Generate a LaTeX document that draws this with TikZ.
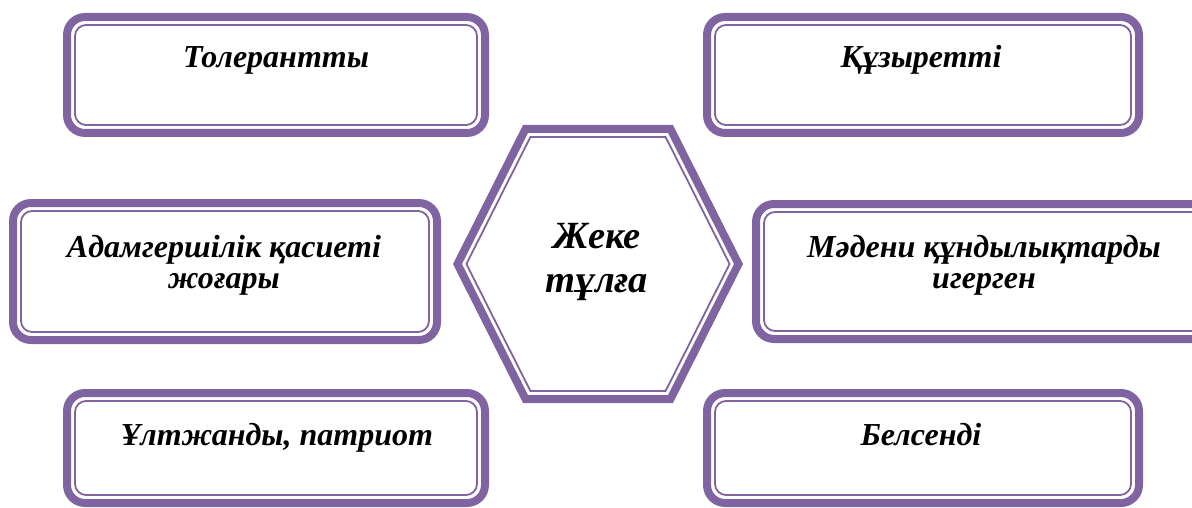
\documentclass[tikz,border=0pt]{standalone}
\usepackage{fontspec}
\setmainfont{Liberation Serif}
\definecolor{vio}{HTML}{8064A2}
\begin{document}
\begin{tikzpicture}[x=1pt,y=-1pt,
  outerbox/.style={draw=vio,line width=8pt,rounded corners=18pt,inner sep=0pt,outer sep=0pt},
  innerline/.style={draw=vio,line width=1.8pt,rounded corners=11pt},
  boxtext/.style={font=\fontsize{32}{31}\selectfont\bfseries\itshape,anchor=base,align=center,inner sep=0pt},
  hextext/.style={font=\fontsize{38.5}{44}\selectfont\bfseries\itshape,anchor=base,align=center,inner sep=0pt},
  hexthick/.style={draw=vio,line width=8pt,line join=miter},
  hexthin/.style={draw=vio,line width=1.8pt,line join=miter}]
\useasboundingbox (0,0) rectangle (1192,508);
% boxes
\node[outerbox,minimum width=418pt,minimum height=116pt] (tl) at (276,75) {};
\node[outerbox,minimum width=432pt,minimum height=116pt] (tr) at (923,75) {};
\node[outerbox,minimum width=424pt,minimum height=137pt] (ml) at (225,271.5) {};
\node[outerbox,minimum width=458pt,minimum height=135pt] (mr) at (985,271.5) {};
\node[outerbox,minimum width=418pt,minimum height=110pt] (bl) at (276,448) {};
\node[outerbox,minimum width=432pt,minimum height=110pt] (br) at (923,448) {};
\draw[innerline] ([xshift=8pt,yshift=-8pt]tl.north west) rectangle ([xshift=-8pt,yshift=8pt]tl.south east);
\draw[innerline] ([xshift=8pt,yshift=-8pt]tr.north west) rectangle ([xshift=-8pt,yshift=8pt]tr.south east);
\draw[innerline] ([xshift=8pt,yshift=-8pt]ml.north west) rectangle ([xshift=-8pt,yshift=8pt]ml.south east);
\draw[innerline] ([xshift=8pt,yshift=-8pt]mr.north west) rectangle ([xshift=-8pt,yshift=8pt]mr.south east);
\draw[innerline] ([xshift=8pt,yshift=-8pt]bl.north west) rectangle ([xshift=-8pt,yshift=8pt]bl.south east);
\draw[innerline] ([xshift=8pt,yshift=-8pt]br.north west) rectangle ([xshift=-8pt,yshift=8pt]br.south east);
% hexagon
\draw[hexthick] (457.5,264) -- (525.5,129) -- (670.5,129) -- (738.5,264) -- (670.5,399) -- (525.5,399) -- cycle;
\draw[hexthin] (466.4,264) -- (530.4,137) -- (665.6,137) -- (729.6,264) -- (665.6,391) -- (530.4,391) -- cycle;
% texts
\node[boxtext] (ttl) at (276,68) {Толерантты};
\node[boxtext] (ttr) at (921,68) {Құзыретті};
\node[boxtext] (tml) at (224,288) {Адамгершілік қасиеті\\жоғары};
\node[boxtext] (tmr) at (984,288) {Мәдени құндылықтарды\\игерген};
\node[boxtext] (tbl) at (277,445) {Ұлтжанды, патриот};
\node[boxtext] (tbr) at (921,445) {Белсенді};
\node[hextext] (hex) at (597,292) {Жеке\\тұлға};
\end{tikzpicture}
\end{document}
